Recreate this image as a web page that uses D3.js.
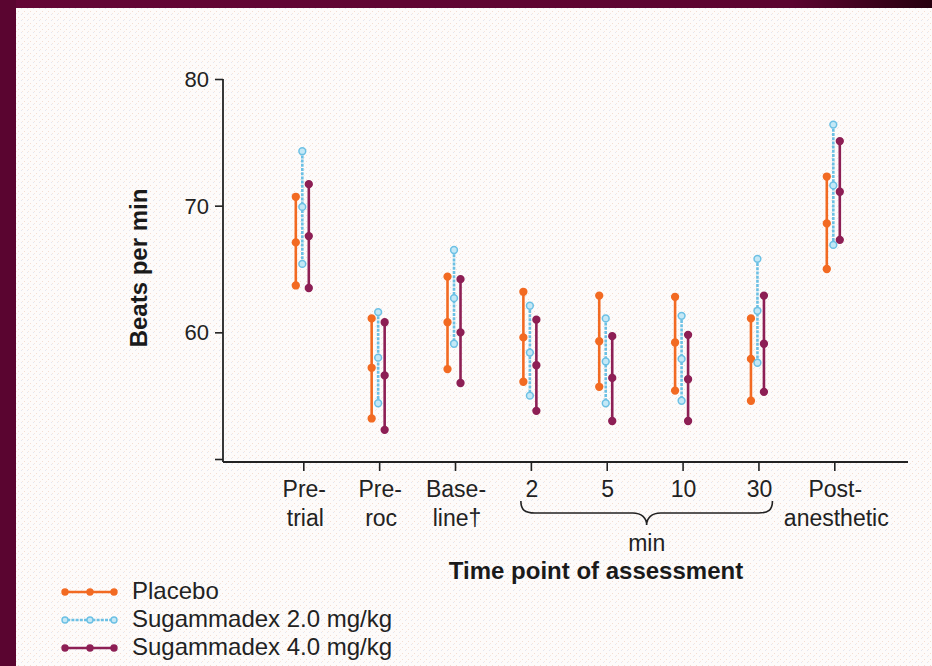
<!DOCTYPE html>
<html>
<head>
<meta charset="utf-8">
<script src="https://cdn.jsdelivr.net/npm/d3@7"></script>
<style>
  body { margin: 0; background: #5a0a33; }
  svg { display: block; font-family: "Liberation Sans", Arial, Helvetica, sans-serif; }
</style>
</head>
<body>
<div id="chart"></div>
<script>
// time points (x categories), two-line labels
var timePoints = ["Pretrial", "Preroc", "Baseline", "2", "5", "10", "30", "Post"];
var labelTop = ["Pre-", "Pre-", "Base-", "2", "5", "10", "30", "Post-"];
var labelBottom = ["trial", "roc", "line\u2020", "", "", "", "", "anesthetic"];

// beats per min: low / mean / high per time point
var placeboLow  = [63.7, 53.2, 57.1, 56.1, 55.7, 55.4, 54.6, 65.0];
var placeboMean = [67.1, 57.2, 60.8, 59.6, 59.3, 59.2, 57.9, 68.6];
var placeboHigh = [70.7, 61.1, 64.4, 63.2, 62.9, 62.8, 61.1, 72.3];

var sug2Low  = [65.4, 54.4, 59.1, 55.0, 54.4, 54.6, 57.6, 66.9];
var sug2Mean = [69.9, 58.0, 62.7, 58.4, 57.7, 57.9, 61.7, 71.6];
var sug2High = [74.3, 61.6, 66.5, 62.1, 61.1, 61.3, 65.8, 76.4];

var sug4Low  = [63.5, 52.3, 56.0, 53.8, 53.0, 53.0, 55.3, 67.3];
var sug4Mean = [67.6, 56.6, 60.0, 57.4, 56.4, 56.3, 59.1, 71.1];
var sug4High = [71.7, 60.8, 64.2, 61.0, 59.7, 59.8, 62.9, 75.1];

var yTicks = [50, 60, 70, 80];
var seriesNames = ["Placebo", "Sugammadex 2.0 mg/kg", "Sugammadex 4.0 mg/kg"];

var width = 932, height = 666;

var series = [
  { name: seriesNames[0], low: placeboLow, mean: placeboMean, high: placeboHigh, color: "#f26a22", dx: -7.5, dash: null, fill: "#f26a22" },
  { name: seriesNames[1], low: sug2Low, mean: sug2Mean, high: sug2High, color: "#6cc0e4", dx: -1, dash: "3,1.2", fill: "#c4e8f6" },
  { name: seriesNames[2], low: sug4Low, mean: sug4Mean, high: sug4High, color: "#8d1f55", dx: 5.5, dash: null, fill: "#8d1f55" }
];

var svg = d3.select("#chart").append("svg")
  .attr("width", width)
  .attr("height", height);

// faint halftone texture of the page
var defs = svg.append("defs");
var pat = defs.append("pattern")
  .attr("id", "paper")
  .attr("width", 6).attr("height", 6)
  .attr("patternUnits", "userSpaceOnUse");
pat.append("rect").attr("width", 6).attr("height", 6).attr("fill", "#fdfbfa");
pat.append("rect").attr("x", 0).attr("y", 5).attr("width", 1).attr("height", 1).attr("fill", "#f3ddd2");
pat.append("rect").attr("x", 3).attr("y", 2).attr("width", 1).attr("height", 1).attr("fill", "#e4e6f0");
pat.append("rect").attr("x", 4).attr("y", 1).attr("width", 1).attr("height", 1).attr("fill", "#f6e6dc");

var grad = defs.append("linearGradient").attr("id", "band")
  .attr("x1", "0%").attr("x2", "100%");
grad.append("stop").attr("offset", "0%").attr("stop-color", "#640636");
grad.append("stop").attr("offset", "85%").attr("stop-color", "#5c0430");
grad.append("stop").attr("offset", "100%").attr("stop-color", "#26000f");

svg.append("rect").attr("width", width).attr("height", height).attr("fill", "url(#band)");
svg.append("rect").attr("x", 0).attr("y", 0).attr("width", 16).attr("height", height).attr("fill", "#5a0530");
svg.append("rect")
  .attr("x", 16).attr("y", 8)
  .attr("width", width - 16).attr("height", height - 8)
  .attr("fill", "url(#paper)");

// scales
var x = d3.scalePoint()
  .domain(timePoints)
  .range([303.3, 834.3]);

var y = d3.scaleLinear()
  .domain([50, 80])
  .range([459, 79]);

var axisColor = "#222";

// y axis
var yAxis = svg.append("g")
  .attr("transform", "translate(223,0)")
  .call(d3.axisLeft(y).tickValues(yTicks).tickSize(8).tickSizeOuter(0)
    .tickFormat(function(d) { return d == 50 ? "" : d; }));
yAxis.select(".domain").remove();
yAxis.selectAll(".tick line").attr("stroke", axisColor).attr("stroke-width", 1.6);
yAxis.selectAll(".tick text")
  .attr("x", -14)
  .attr("dy", "0.34em")
  .attr("fill", "#222")
  .style("font-size", "22px");

// axis lines
var axisY = 462;
svg.append("line")
  .attr("x1", 223).attr("x2", 223)
  .attr("y1", y(80)).attr("y2", axisY)
  .attr("stroke", axisColor).attr("stroke-width", 1.8);
svg.append("line")
  .attr("x1", 223).attr("x2", 908)
  .attr("y1", axisY).attr("y2", axisY)
  .attr("stroke", axisColor).attr("stroke-width", 1.8);

// x ticks
var xAxis = svg.append("g")
  .attr("transform", "translate(0," + axisY + ")")
  .call(d3.axisBottom(x).tickSize(9).tickSizeOuter(0).tickFormat(""));
xAxis.select(".domain").remove();
xAxis.selectAll(".tick line").attr("stroke", axisColor).attr("stroke-width", 1.6);

// x labels, two lines
var xl = svg.append("g").style("font-size", "23px").attr("fill", "#222");
xl.selectAll("text.top")
  .data(timePoints)
  .enter().append("text")
  .attr("class", "top")
  .attr("x", function(d) { return x(d) + 1; })
  .attr("y", 497)
  .attr("text-anchor", "middle")
  .text(function(d, i) { return labelTop[i]; });
xl.selectAll("text.bot")
  .data(timePoints)
  .enter().append("text")
  .attr("class", "bot")
  .attr("x", function(d) { return x(d) + 2; })
  .attr("y", 526)
  .attr("text-anchor", "middle")
  .text(function(d, i) { return labelBottom[i]; });

// brace under the minute time points
var bx0 = x("2") - 10, bx1 = x("30") + 14, bxm = (bx0 + bx1) / 2;
var brace = "M" + bx0 + ",501 C" + bx0 + ",510 " + (bx0 + 4) + ",513 " + (bx0 + 14) + ",513"
  + " L" + (bxm - 14) + ",513 C" + (bxm - 5) + ",513 " + bxm + ",518 " + bxm + ",525"
  + " C" + bxm + ",518 " + (bxm + 5) + ",513 " + (bxm + 14) + ",513"
  + " L" + (bx1 - 14) + ",513 C" + (bx1 - 4) + ",513 " + bx1 + ",510 " + bx1 + ",501";
svg.append("path")
  .attr("d", brace)
  .attr("fill", "none")
  .attr("stroke", "#222")
  .attr("stroke-width", 1.6);
svg.append("text")
  .attr("x", bxm).attr("y", 551)
  .attr("text-anchor", "middle")
  .attr("fill", "#222")
  .style("font-size", "23px")
  .text("min");

// axis titles
svg.append("text")
  .attr("x", 596).attr("y", 579)
  .attr("text-anchor", "middle")
  .attr("fill", "#1a1a1a")
  .style("font-size", "24px")
  .style("font-weight", "bold")
  .text("Time point of assessment");

svg.append("text")
  .attr("transform", "translate(147,268) rotate(-90)")
  .attr("text-anchor", "middle")
  .attr("fill", "#1a1a1a")
  .style("font-size", "24px")
  .style("font-weight", "bold")
  .text("Beats per min");

// error bars
series.forEach(function(s) {
  var g = svg.append("g");
  var rows = timePoints.map(function(t, i) {
    return { t: t, low: s.low[i], mean: s.mean[i], high: s.high[i] };
  });
  g.selectAll("line.bar")
    .data(rows)
    .enter().append("line")
    .attr("class", "bar")
    .attr("x1", function(d) { return x(d.t) + s.dx; })
    .attr("x2", function(d) { return x(d.t) + s.dx; })
    .attr("y1", function(d) { return y(d.high); })
    .attr("y2", function(d) { return y(d.low); })
    .attr("stroke", s.color)
    .attr("stroke-width", 2.6)
    .attr("stroke-dasharray", s.dash);
  ["low", "mean", "high"].forEach(function(k) {
    g.selectAll("circle." + k)
      .data(rows)
      .enter().append("circle")
      .attr("class", k)
      .attr("cx", function(d) { return x(d.t) + s.dx; })
      .attr("cy", function(d) { return y(d[k]); })
      .attr("r", 3.4)
      .attr("fill", s.fill)
      .attr("stroke", s.color)
      .attr("stroke-width", 1.5);
  });
});

// legend
var legend = svg.append("g").attr("transform", "translate(0,592)");
var item = legend.selectAll("g")
  .data(series)
  .enter().append("g")
  .attr("transform", function(d, i) { return "translate(0," + (i * 28) + ")"; });
item.append("line")
  .attr("x1", 63).attr("x2", 116)
  .attr("stroke", function(d) { return d.color; })
  .attr("stroke-width", 2.4)
  .attr("stroke-dasharray", function(d) { return d.dash; });
[65, 90, 114].forEach(function(cx) {
  item.append("circle")
    .attr("cx", cx).attr("cy", 0).attr("r", 3)
    .attr("fill", function(d) { return d.fill; })
    .attr("stroke", function(d) { return d.color; })
    .attr("stroke-width", 1.4);
});
item.append("text")
  .attr("x", 132).attr("y", 7)
  .attr("fill", "#222")
  .style("font-size", "24px")
  .text(function(d) { return d.name; });
</script>
</body>
</html>
